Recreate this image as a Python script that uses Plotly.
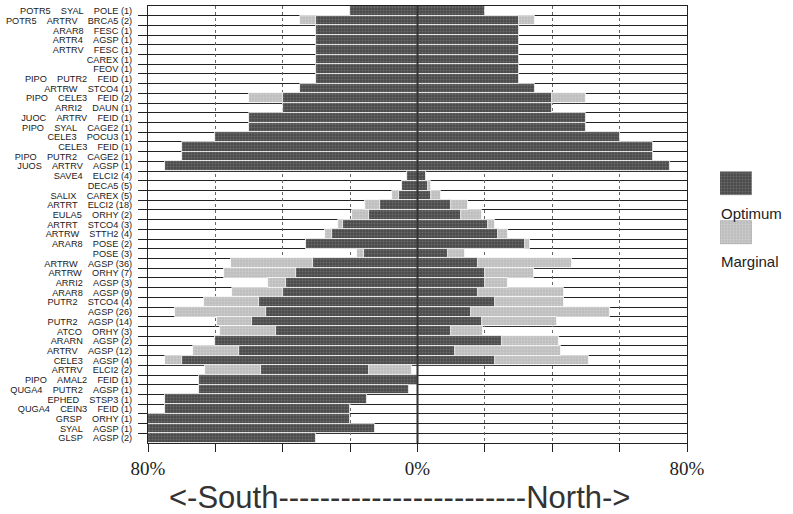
import plotly.graph_objects as go

# Community labels: tree layer, shrub layer, herb layer (with plot count)
tree = (["POTR5", "POTR5"] + [""] * 5 + ["PIPO", "", "PIPO", "", "JUOC", "PIPO", "", "", "PIPO", "JUOS"]
        + [""] * 21 + ["PIPO", "QUGA4", "", "QUGA4", "", "", ""])
shrub = ["SYAL", "ARTRV", "ARAR8", "ARTR4", "ARTRV", "", "", "PUTR2", "ARTRW", "CELE3",
         "ARRI2", "ARTRV", "SYAL", "CELE3", "CELE3", "PUTR2", "ARTRV", "SAVE4", "", "SALIX",
         "ARTRT", "EULA5", "ARTRT", "ARTRW", "ARAR8", "", "ARTRW", "ARTRW", "ARRI2", "ARAR8",
         "PUTR2", "", "PUTR2", "ATCO", "ARARN", "ARTRV", "CELE3", "ARTRV", "AMAL2", "PUTR2",
         "EPHED", "CEIN3", "GRSP", "SYAL", "GLSP"]
herb = ["POLE (1)", "BRCA5 (2)", "FESC (1)", "AGSP (1)", "FESC (1)", "CAREX (1)", "FEOV (1)",
        "FEID (1)", "STCO4 (1)", "FEID (2)", "DAUN (1)", "FEID (1)", "CAGE2 (1)", "POCU3 (1)",
        "FEID (1)", "CAGE2 (1)", "AGSP (1)", "ELCI2 (4)", "DECA5 (5)", "CAREX (5)", "ELCI2 (18)",
        "ORHY (2)", "STCO4 (3)", "STTH2 (4)", "POSE (2)", "POSE (3)", "AGSP (36)", "ORHY (7)",
        "AGSP (3)", "AGSP (9)", "STCO4 (4)", "AGSP (26)", "AGSP (14)", "ORHY (3)", "AGSP (2)",
        "AGSP (12)", "AGSP (4)", "ELCI2 (2)", "FEID (1)", "AGSP (1)", "STSP3 (1)", "FEID (1)",
        "ORHY (1)", "AGSP (1)", "AGSP (2)"]

# Slope ranges in percent: negative = south aspect, positive = north aspect
optimum_low = [-20, -30, -30, -30, -30, -30, -30, -30, -35, -40, -40, -50, -50, -60, -70,
               -70, -75, -3, -4.5, -5.5, -11, -14.5, -22, -25.5, -33, -16, -31, -36, -39, -40,
               -47, -45, -49, -42, -60, -53, -70, -46.5, -65, -65, -75, -75, -80, -80, -80]
optimum_high = [20, 30, 30, 30, 30, 30, 30, 30, 35, 40, 40, 50, 50, 60, 70,
                70, 75, 2.5, 3, 4, 10, 13, 21, 24, 32, 9, 18, 20, 20, 18,
                23, 16, 19, 10, 25, 11, 23, -14.5, 0, -2.5, -15, -20, -20, -12.5, -30]
marginal_low = [None, -35, None, None, None, None, None, None, None, -50, None, None, None, None, None,
                None, None, None, -4.5, -7.5, -15.5, -19.5, -23.5, -27.5, -33, -18, -55.5, -57.5, -44.5, -55,
                -63.5, -72, -59.5, -58.5, -60, -66.5, -75, -63, None, None, None, None, None, None, None]
marginal_high = [None, 35, None, None, None, None, None, None, None, 50, None, None, None, None, None,
                 None, None, None, 4, 7, 15, 19, 23, 27, 33.5, 14, 46, 34.5, 27, 43.5,
                 43.5, 57, 41.5, 19.5, 42, 42.5, 51, -1.5, None, None, None, None, None, None, None]

tick_values = [-80, -60, -40, -20, 0, 20, 40, 60, 80]
tick_text = ["80%", "", "", "", "0%", "", "", "", "80%"]

NB = "\u00a0"
GAP = NB * 4
labels = [GAP.join([p for p in (t, s, h) if p]) for t, s, h in zip(tree, shrub, herb)]
rows = list(range(len(labels)))

OPT_COLOR = "#4a4a4a"
OPT_DOT = "#8c8c8c"
MARG_COLOR = "#bdbdbd"
MARG_DOT = "#e0e0e0"

opt_pattern = dict(shape=".", fgcolor=OPT_DOT, size=3, solidity=0.35)
marg_pattern = dict(shape=".", fgcolor=MARG_DOT, size=3, solidity=0.35)

marg_width = [None if lo is None else hi - lo for lo, hi in zip(marginal_low, marginal_high)]
opt_width = [hi - lo for lo, hi in zip(optimum_low, optimum_high)]

fig = go.Figure()
fig.add_trace(go.Bar(
    y=rows, x=marg_width, base=marginal_low, orientation="h", name="Marginal",
    marker=dict(color=MARG_COLOR, pattern=marg_pattern, line=dict(color="white", width=0.8)),
    showlegend=False, hoverinfo="skip"))
fig.add_trace(go.Bar(
    y=rows, x=opt_width, base=optimum_low, orientation="h", name="Optimum",
    marker=dict(color=OPT_COLOR, pattern=opt_pattern, line=dict(color="white", width=0.8)),
    showlegend=False, hoverinfo="skip"))

# Key swatches drawn on their own small axes
legend_names = ["Optimum", "Marginal"]
fig.add_trace(go.Bar(
    x=[1], y=[0.47], base=[0], width=0.46, orientation="h", xaxis="x2", yaxis="y2",
    marker=dict(color=OPT_COLOR, pattern=opt_pattern, line=dict(color="#777", width=0.6)),
    showlegend=False, hoverinfo="skip"))
fig.add_trace(go.Bar(
    x=[1], y=[1.45], base=[0], width=0.46, orientation="h", xaxis="x2", yaxis="y2",
    marker=dict(color=MARG_COLOR, pattern=marg_pattern, line=dict(color="#999", width=0.6)),
    showlegend=False, hoverinfo="skip"))

fig.add_vline(x=0, line=dict(color="#333333", width=2), layer="above")

fig.update_layout(
    width=793, height=514,
    margin=dict(l=148, r=20, t=6, b=71, autoexpand=False),
    paper_bgcolor="white", plot_bgcolor="white",
    barmode="overlay", bargap=0,
    xaxis=dict(
        domain=[0, 0.8624], range=[-80, 80], automargin=False,
        tickvals=tick_values, ticktext=tick_text,
        ticks="outside", ticklen=8, tickcolor="#222", tickwidth=1,
        tickfont=dict(family="Liberation Serif", size=19, color="#222"),
        showgrid=True, gridcolor="#666", griddash="dot", gridwidth=1,
        zeroline=False, showline=True, linecolor="#222", linewidth=1, mirror=True,
    ),
    yaxis=dict(
        domain=[0, 1], range=[len(labels) - 0.5, -0.5], automargin=False,
        tickvals=rows, ticktext=labels, ticks="",
        tickfont=dict(family="Liberation Sans", size=9.2, color="#1a1a1a"),
        ticklabelstandoff=13,
        showgrid=False, zeroline=False,
        showline=True, linecolor="#222", linewidth=1, mirror=True,
        minor=dict(tickmode="array", tickvals=[r + 0.5 for r in rows[:-1]],
                   ticks="outside", ticklen=9, tickcolor="#222",
                   showgrid=True, gridcolor="#222", gridwidth=1),
    ),
    xaxis2=dict(domain=[0.9152, 0.9664], range=[0, 1], visible=False, anchor="y2"),
    yaxis2=dict(domain=[0.4188, 0.6476], range=[2, 0], visible=False, anchor="x2"),
    annotations=[
        dict(text=legend_names[0], x=0.9136, y=0.5252, xref="paper", yref="paper",
             xanchor="left", yanchor="middle", showarrow=False,
             font=dict(family="Liberation Sans", size=15, color="#222")),
        dict(text=legend_names[1], x=0.9136, y=0.4153, xref="paper", yref="paper",
             xanchor="left", yanchor="middle", showarrow=False,
             font=dict(family="Liberation Sans", size=15, color="#222")),
        dict(text="&lt;-South------------------------North-&gt;", x=0.4016, y=-0.1236,
             xref="paper", yref="paper", xanchor="center", yanchor="middle", showarrow=False,
             font=dict(family="Liberation Sans", size=31, color="#333")),
    ],
)

fig.write_html("out.html")
